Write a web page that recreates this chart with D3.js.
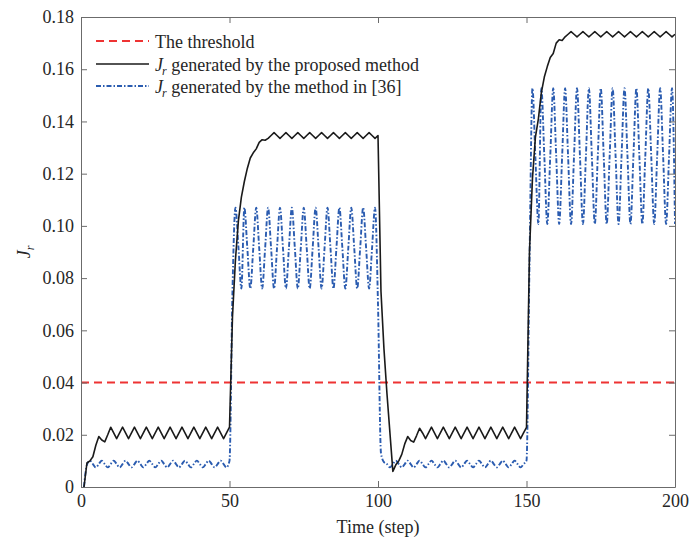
<!DOCTYPE html>
<html>
<head>
<meta charset="utf-8">
<script src="https://cdn.jsdelivr.net/npm/d3@7"></script>
<style>
  html, body { margin: 0; padding: 0; background: #fff; }
  svg text { font-family: "Liberation Serif", "Times New Roman", serif; fill: #262626; }
</style>
</head>
<body>
<svg id="chart" width="689" height="543"></svg>
<script>
// ---------------- data ----------------
const xTicks = [0, 50, 100, 150, 200];
const yTicks = [0, 0.02, 0.04, 0.06, 0.08, 0.10, 0.12, 0.14, 0.16, 0.18];
const threshold = 0.04;
const seriesNames = ["The threshold", "generated by the proposed method", "generated by the method in [36]"];

// steps 1..200
const steps = [
  1,2,3,4,5,6,7,8,9,10,11,12,13,14,15,16,17,18,19,20,21,22,23,24,25,26,27,28,29,30,31,32,33,34,35,36,37,38,39,40,
  41,42,43,44,45,46,47,48,49,50,51,52,53,54,55,56,57,58,59,60,61,62,63,64,65,66,67,68,69,70,71,72,73,74,75,76,77,78,79,80,
  81,82,83,84,85,86,87,88,89,90,91,92,93,94,95,96,97,98,99,100,101,102,103,104,105,106,107,108,109,110,111,112,113,114,115,116,117,118,119,120,
  121,122,123,124,125,126,127,128,129,130,131,132,133,134,135,136,137,138,139,140,141,142,143,144,145,146,147,148,149,150,151,152,153,154,155,156,157,158,159,160,
  161,162,163,164,165,166,167,168,169,170,171,172,173,174,175,176,177,178,179,180,181,182,183,184,185,186,187,188,189,190,191,192,193,194,195,196,197,198,199,200
];

// J_r generated by the proposed method
const proposed = [
  0.0000,0.0092,0.0100,0.0116,0.0160,0.0193,0.0180,0.0173,0.0200,0.0229,
  0.0207,0.0185,0.0207,0.0229,0.0207,0.0185,0.0207,0.0229,0.0207,0.0185,
  0.0207,0.0229,0.0207,0.0185,0.0207,0.0229,0.0207,0.0185,0.0207,0.0229,
  0.0207,0.0185,0.0207,0.0229,0.0207,0.0185,0.0207,0.0229,0.0207,0.0185,
  0.0207,0.0229,0.0207,0.0185,0.0207,0.0229,0.0207,0.0185,0.0207,0.0229,
  0.0650,0.0870,0.1020,0.1110,0.1170,0.1220,0.1260,0.1280,0.1295,0.1320,
  0.1330,0.1328,0.1335,0.1346,0.1357,0.1346,0.1335,0.1346,0.1357,0.1346,
  0.1335,0.1346,0.1357,0.1346,0.1335,0.1346,0.1357,0.1346,0.1335,0.1346,
  0.1357,0.1346,0.1335,0.1346,0.1357,0.1346,0.1335,0.1346,0.1357,0.1346,
  0.1335,0.1346,0.1357,0.1346,0.1335,0.1346,0.1357,0.1346,0.1335,0.1346,
  0.0750,0.0530,0.0360,0.0210,0.0060,0.0085,0.0100,0.0125,0.0165,0.0193,
  0.0178,0.0172,0.0197,0.0225,0.0207,0.0185,0.0207,0.0229,0.0207,0.0185,
  0.0207,0.0229,0.0207,0.0185,0.0207,0.0229,0.0207,0.0185,0.0207,0.0229,
  0.0207,0.0185,0.0207,0.0229,0.0207,0.0185,0.0207,0.0229,0.0207,0.0185,
  0.0207,0.0229,0.0207,0.0185,0.0207,0.0229,0.0207,0.0185,0.0207,0.0228,
  0.0900,0.1180,0.1340,0.1410,0.1510,0.1570,0.1610,0.1645,0.1660,0.1700,
  0.1713,0.1710,0.1724,0.1734,0.1744,0.1734,0.1724,0.1734,0.1744,0.1734,
  0.1724,0.1734,0.1744,0.1734,0.1724,0.1734,0.1744,0.1734,0.1724,0.1734,
  0.1744,0.1734,0.1724,0.1734,0.1744,0.1734,0.1724,0.1734,0.1744,0.1734,
  0.1724,0.1734,0.1744,0.1734,0.1724,0.1734,0.1744,0.1734,0.1724,0.1734
];

// J_r generated by the method in [36]
const reference36 = [
  0.0000,0.0085,0.0101,0.0088,0.0075,0.0088,0.0101,0.0088,0.0075,0.0088,
  0.0101,0.0088,0.0075,0.0088,0.0101,0.0088,0.0075,0.0088,0.0101,0.0088,
  0.0075,0.0088,0.0101,0.0088,0.0075,0.0088,0.0101,0.0088,0.0075,0.0088,
  0.0101,0.0088,0.0075,0.0088,0.0101,0.0088,0.0075,0.0088,0.0101,0.0088,
  0.0075,0.0088,0.0101,0.0088,0.0075,0.0088,0.0101,0.0088,0.0075,0.0100,
  0.0750,0.1070,0.0920,0.0760,0.1070,0.0915,0.0760,0.0915,0.1070,0.0915,
  0.0760,0.0915,0.1070,0.0915,0.0760,0.0915,0.1070,0.0915,0.0760,0.0915,
  0.1070,0.0915,0.0760,0.0915,0.1070,0.0915,0.0760,0.0915,0.1070,0.0915,
  0.0760,0.0915,0.1070,0.0915,0.0760,0.0915,0.1070,0.0915,0.0760,0.0915,
  0.1070,0.0915,0.0760,0.0915,0.1070,0.0915,0.0760,0.0915,0.1070,0.0700,
  0.0130,0.0095,0.0088,0.0075,0.0088,0.0101,0.0088,0.0075,0.0088,0.0101,
  0.0088,0.0075,0.0088,0.0101,0.0088,0.0075,0.0088,0.0101,0.0088,0.0075,
  0.0088,0.0101,0.0088,0.0075,0.0088,0.0101,0.0088,0.0075,0.0088,0.0101,
  0.0088,0.0075,0.0088,0.0101,0.0088,0.0075,0.0088,0.0101,0.0088,0.0075,
  0.0088,0.0101,0.0088,0.0075,0.0088,0.0101,0.0088,0.0075,0.0088,0.0101,
  0.0850,0.1527,0.1260,0.1007,0.1527,0.1267,0.1007,0.1267,0.1527,0.1267,
  0.1007,0.1267,0.1527,0.1267,0.1007,0.1267,0.1527,0.1267,0.1007,0.1267,
  0.1527,0.1267,0.1007,0.1267,0.1527,0.1267,0.1007,0.1267,0.1527,0.1267,
  0.1007,0.1267,0.1527,0.1267,0.1007,0.1267,0.1527,0.1267,0.1007,0.1267,
  0.1527,0.1267,0.1007,0.1267,0.1527,0.1267,0.1007,0.1267,0.1527,0.1007
];

// ---------------- drawing ----------------
const plotL = 81, plotR = 675, plotT = 17, plotB = 487;
const FONT = 18;
const axisColor = "#6b6b6b";
const redColor = "#ee3333";
const blackColor = "#1a1a1a";
const blueColor = "#2b5cb0";

const svg = d3.select("#chart");
const x = d3.scaleLinear().domain([0, 200]).range([plotL, plotR]);
const y = d3.scaleLinear().domain([0, 0.18]).range([plotB, plotT]);

const fmtY = d => d === 0 ? "0" : d3.format(".2f")(d);

svg.append("clipPath").attr("id", "clip")
  .append("rect").attr("x", plotL).attr("y", plotT).attr("width", plotR - plotL).attr("height", plotB - plotT);

const lines = svg.append("g").attr("clip-path", "url(#clip)");

// threshold
lines.append("path")
  .datum([0, 200])
  .attr("d", d3.line().x(d => x(d)).y(() => y(threshold)))
  .attr("fill", "none").attr("stroke", redColor).attr("stroke-width", 2)
  .attr("stroke-dasharray", "8,5");

const pts1 = steps.map((s, i) => [s, proposed[i]]);
const pts2 = steps.map((s, i) => [s, reference36[i]]);

lines.append("path")
  .datum(pts2)
  .attr("d", d3.line().x(d => x(d[0])).y(d => y(d[1])).curve(d3.curveMonotoneX))
  .attr("fill", "none").attr("stroke", blueColor).attr("stroke-width", 1.9)
  .attr("stroke-dasharray", "5,2,1.5,2");

lines.append("path")
  .datum(pts1)
  .attr("d", d3.line().x(d => x(d[0])).y(d => y(d[1])))
  .attr("fill", "none").attr("stroke", blackColor).attr("stroke-width", 1.6)
  .attr("stroke-linejoin", "round");

// axes
function styleAxis(g) {
  g.selectAll(".domain").attr("stroke", axisColor).attr("stroke-width", 1);
  g.selectAll(".tick line").attr("stroke", axisColor).attr("stroke-width", 1);
  g.selectAll(".tick text").attr("font-family", '"Liberation Serif", serif')
    .attr("font-size", FONT).attr("fill", "#262626");
}

const gx = svg.append("g").attr("transform", `translate(0,${plotB})`)
  .call(d3.axisBottom(x).tickValues(xTicks).tickSizeInner(-6).tickSizeOuter(0).tickPadding(6).tickFormat(d3.format("d")));
styleAxis(gx);
gx.selectAll(".tick text").attr("dy", "0.71em").attr("y", 7);

const gy = svg.append("g").attr("transform", `translate(${plotL},0)`)
  .call(d3.axisLeft(y).tickValues(yTicks).tickSizeInner(-6).tickSizeOuter(0).tickPadding(7).tickFormat(fmtY));
styleAxis(gy);
gy.selectAll(".tick text").attr("x", -7);

const gt = svg.append("g").attr("transform", `translate(0,${plotT})`)
  .call(d3.axisTop(x).tickValues(xTicks).tickSizeInner(-6).tickSizeOuter(0).tickFormat(""));
styleAxis(gt);

const gr = svg.append("g").attr("transform", `translate(${plotR},0)`)
  .call(d3.axisRight(y).tickValues(yTicks).tickSizeInner(-6).tickSizeOuter(0).tickFormat(""));
styleAxis(gr);

// axis titles
svg.append("text")
  .attr("x", (plotL + plotR) / 2).attr("y", 533)
  .attr("text-anchor", "middle").attr("font-size", FONT)
  .text("Time (step)");

const yl = svg.append("text")
  .attr("transform", `translate(30,${(plotT + plotB) / 2}) rotate(-90)`)
  .attr("text-anchor", "middle").attr("font-size", FONT);
yl.append("tspan").attr("font-style", "italic").text("J");
yl.append("tspan").attr("font-style", "italic").attr("font-size", 12).attr("dy", 4).text("r");

// legend
const legend = svg.append("g");
const rows = [
  { yc: 41, color: redColor, dash: "8,5", w: 2, sub: false, label: seriesNames[0] },
  { yc: 64, color: blackColor, dash: null, w: 1.6, sub: true, label: seriesNames[1] },
  { yc: 86, color: blueColor, dash: "5,2,1.5,2", w: 1.9, sub: true, label: seriesNames[2] }
];
rows.forEach(r => {
  legend.append("line")
    .attr("x1", 96).attr("x2", 149).attr("y1", r.yc).attr("y2", r.yc)
    .attr("stroke", r.color).attr("stroke-width", r.w)
    .attr("stroke-dasharray", r.dash);
  const t = legend.append("text").attr("x", 155).attr("y", r.yc + 6.5).attr("font-size", FONT);
  if (r.sub) {
    t.append("tspan").attr("font-style", "italic").text("J");
    t.append("tspan").attr("font-style", "italic").attr("font-size", 12).attr("dy", 4).attr("dx", -1).text("r");
    t.append("tspan").attr("dy", -4).text(" " + r.label);
  } else {
    t.text(r.label);
  }
});
</script>
</body>
</html>
